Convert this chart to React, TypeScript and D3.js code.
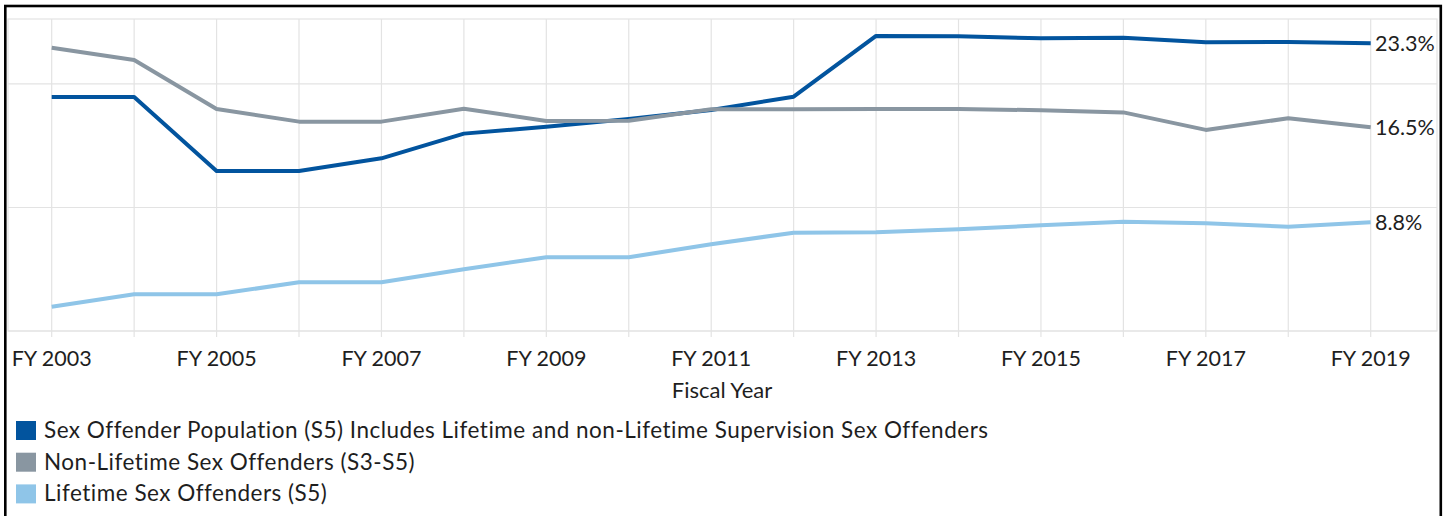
import React from "react";
import * as d3 from "d3";

const years = [2003, 2004, 2005, 2006, 2007, 2008, 2009, 2010, 2011, 2012, 2013, 2014, 2015, 2016, 2017, 2018, 2019];
const tickYears = [2003, 2005, 2007, 2009, 2011, 2013, 2015, 2017, 2019];
const sexOffenderPopulation = [18.95, 18.95, 12.96, 12.96, 13.98, 15.98, 16.54, 17.17, 17.9, 18.97, 23.89, 23.86, 23.7, 23.75, 23.37, 23.4, 23.3];
const nonLifetime = [22.94, 21.94, 17.98, 16.95, 16.95, 18.0, 17.0, 17.03, 17.95, 17.95, 17.98, 17.98, 17.87, 17.7, 16.28, 17.22, 16.5];
const lifetime = [1.97, 2.97, 2.97, 3.94, 3.94, 5.0, 5.97, 5.97, 7.02, 7.96, 7.99, 8.23, 8.56, 8.85, 8.72, 8.45, 8.8];
const yGridValues = [0, 10, 20];
const seriesNames = [
  "Sex Offender Population (S5) Includes Lifetime and non-Lifetime Supervision Sex Offenders",
  "Non-Lifetime Sex Offenders (S3-S5)",
  "Lifetime Sex Offenders (S5)",
];
const endLabels = ["23.3%", "16.5%", "8.8%"];
const colors = ["#02549e", "#8996a1", "#8fc5e8"];

const FONT = "Lato, 'Open Sans', sans-serif";

export default function App() {
  const plotLeft = 8, plotRight = 1437, plotTop = 19, plotBottom = 331;
  const x = d3.scaleLinear().domain([2003, 2019]).range([51.7, 1370.7]);
  const y = d3.scaleLinear().domain([0, 25.26]).range([plotBottom, plotTop]);
  const series = [sexOffenderPopulation, nonLifetime, lifetime];
  const line = d3.line<number>().x((_, i) => x(years[i])).y((d) => y(d));
  const textColor = "#1e1e1e";
  const grid = "#e3e3e3";

  return (
    <svg width={1451} height={516} style={{ position: "absolute", left: 0, top: 0, background: "#fff" }}>
      <rect x={0} y={0} width={1451} height={516} fill="#fff" />
      {/* outer frame */}
      <rect x={5.3} y={6} width={1435.5} height={520} fill="none" stroke="#000" strokeWidth={2.6} />
      {/* plot area */}
      <rect x={plotLeft} y={plotTop} width={plotRight - plotLeft} height={plotBottom - plotTop} fill="none" stroke={grid} strokeWidth={1.2} />
      {yGridValues.map((v) => (
        <line key={"h" + v} x1={plotLeft} x2={plotRight} y1={y(v)} y2={y(v)} stroke={grid} strokeWidth={1.2} />
      ))}
      {years.map((yr) => (
        <line key={"v" + yr} x1={x(yr)} x2={x(yr)} y1={plotTop} y2={plotBottom + 6} stroke={grid} strokeWidth={1.2} />
      ))}
      {series.map((s, i) => (
        <path key={"s" + i} d={line(s) || ""} fill="none" stroke={colors[i]} strokeWidth={4} strokeLinejoin="round" />
      ))}
      {series.map((s, i) => (
        <text key={"e" + i} x={1375} y={y(s[s.length - 1]) + 8} fontFamily={FONT} fontSize={21.5} fill={textColor}>
          {endLabels[i]}
        </text>
      ))}
      {tickYears.map((yr) => (
        <text key={"t" + yr} x={x(yr)} y={366} textAnchor="middle" fontFamily={FONT} fontSize={21.5} fill={textColor}>
          {"FY " + yr}
        </text>
      ))}
      <text x={722} y={398} textAnchor="middle" fontFamily={FONT} fontSize={22} fill={textColor}>
        Fiscal Year
      </text>
      {seriesNames.map((name, i) => (
        <g key={"l" + i} transform={`translate(0, ${i * 31.7})`}>
          <rect x={16} y={421} width={20} height={19} fill={colors[i]} />
          <text x={44} y={438} fontFamily={FONT} fontSize={22.5} letterSpacing={0.5} fill={textColor}>
            {name}
          </text>
        </g>
      ))}
    </svg>
  );
}
